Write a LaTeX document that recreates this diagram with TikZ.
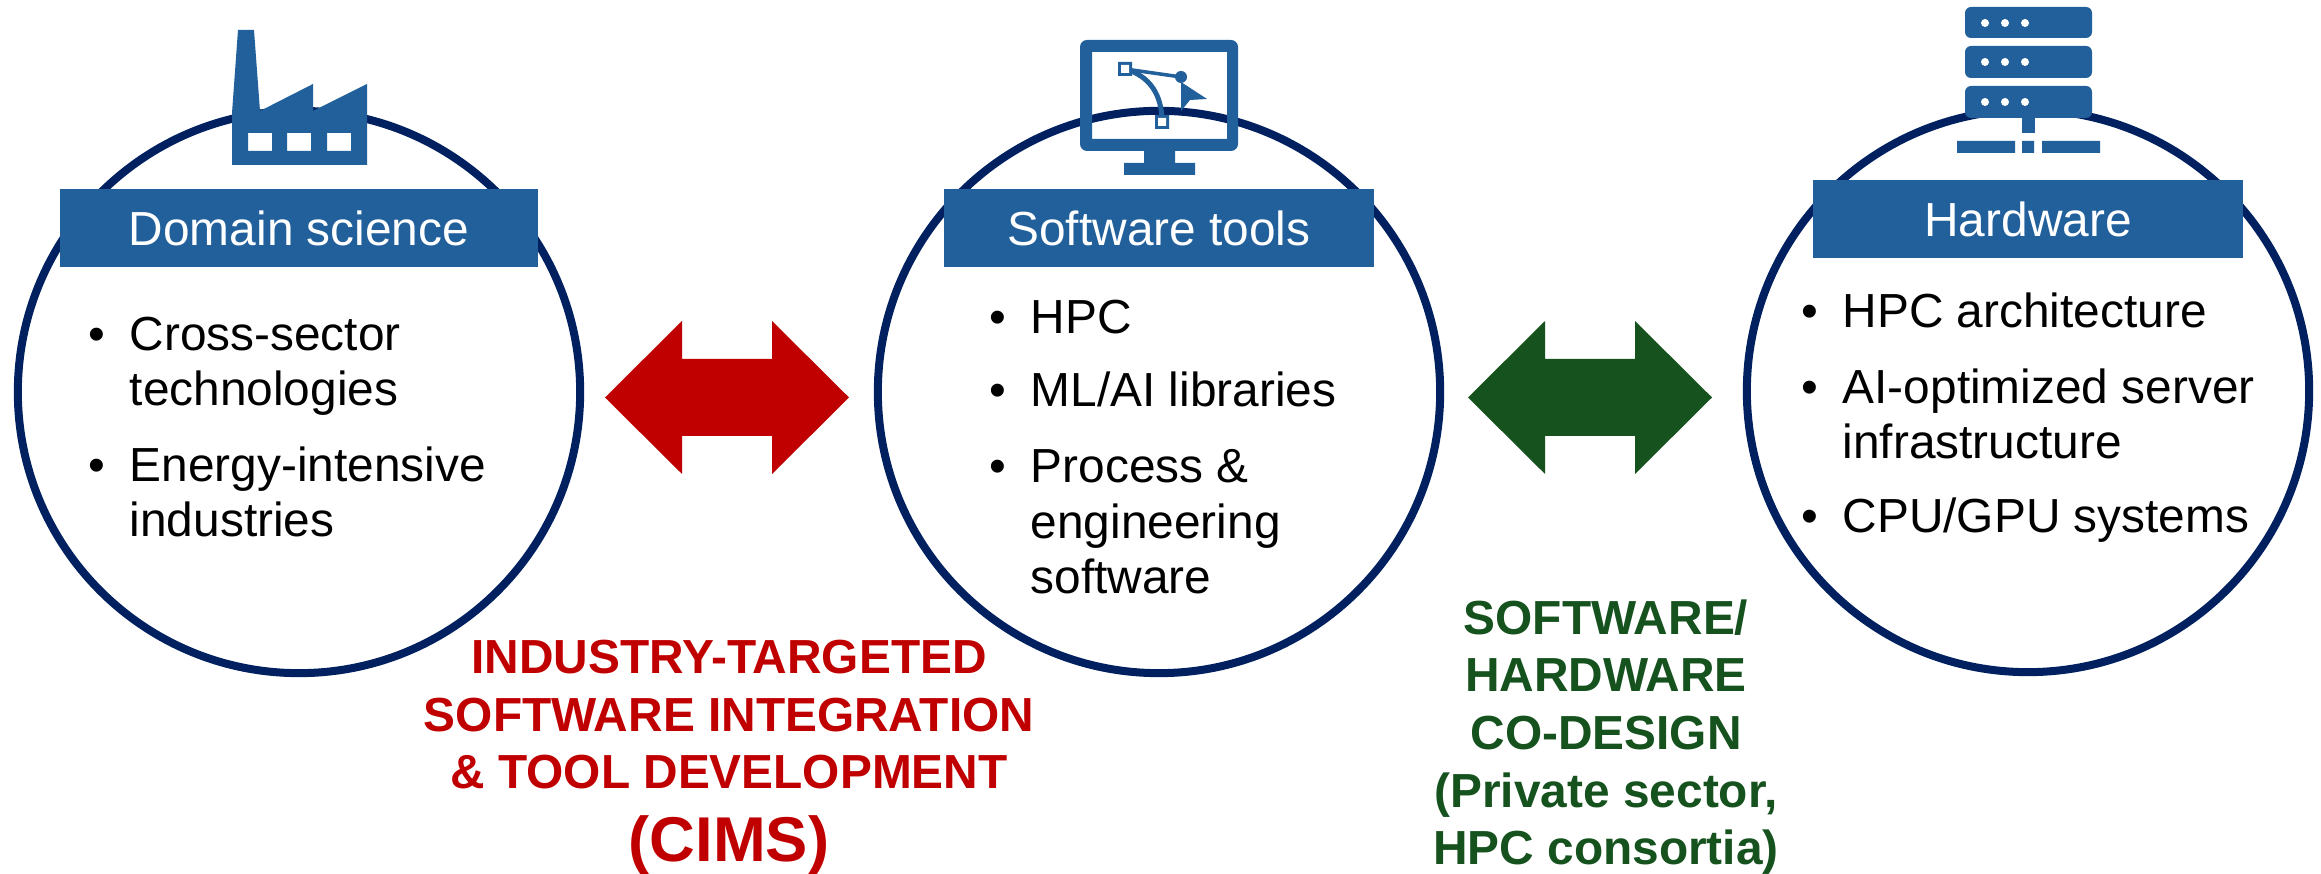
\documentclass[tikz,border=0pt]{standalone}
\usepackage{fontspec}
\setmainfont{Liberation Sans}
\usepackage{xcolor}
\usepackage{tikz}
\usetikzlibrary{positioning}

\definecolor{ringblue}{HTML}{002060}
\definecolor{headblue}{HTML}{21609B}
\definecolor{cimsred}{HTML}{C00000}
\definecolor{codegreen}{HTML}{15521E}

\newcommand{\bu}{\makebox[0.41cm][l]{\textbullet}}
\newcommand{\nb}{\hspace*{0.41cm}}

\begin{document}
\begin{tikzpicture}[
        x=0.01cm, y=-0.01cm,
        ring/.style={circle,draw=ringblue,line width=0.08cm,minimum size=5.62cm,inner sep=0pt},
        head/.style={fill=headblue,text=white,minimum width=#1,minimum height=0.78cm,inner sep=0pt,font=\fontsize{13.6}{16}\selectfont},
        itm/.style={anchor=base west,align=left,inner sep=0pt,font=\fontsize{13.6}{15.9}\selectfont},
        note/.style={anchor=base,align=center,inner sep=0pt,font=\fontsize{13.6}{16.4}\selectfont\bfseries},
        icon/.style={fill=headblue,draw=none}
      ]
      \useasboundingbox (0,0) rectangle (2321,874);
      % circles
      \node[ring] (sci) at (299,392) {};
      \node[ring] (sw) at (1159,392) {};
      \node[ring] (hw) at (2028,391) {};
      % headers
      \node[head=4.78cm] (scih) at (299,228) {Domain science};
      \node[head=4.29cm] (swh) at (1159,228) {Software tools};
      \node[head=4.29cm] (hwh) at (2028,219) {Hardware};
      % lists
      \node[itm] (sci1) at (88,406) {\bu Cross-sector\\\nb technologies};
      \node[itm] (sci2) at (88,537) {\bu Energy-intensive\\\nb industries};
      \node[itm] (sw1) at (989,334) {\bu HPC};
      \node[itm] (sw2) at (989,407) {\bu ML/AI libraries};
      \node[itm] (sw3) at (989,594) {\bu Process \&\\\nb engineering\\\nb software};
      \node[itm] (hw1) at (1801,328) {\bu HPC architecture};
      \node[itm] (hw2) at (1801,459) {\bu AI-optimized server\\\nb infrastructure};
      \node[itm] (hw3) at (1801,533) {\bu CPU/GPU systems};
      % arrows
      \fill[cimsred] (605,397.5) -- (682,321) -- (682,359) -- (772,359) -- (772,321) -- (849,397.5)
        -- (772,474) -- (772,436) -- (682,436) -- (682,474) -- cycle;
      \fill[codegreen] (1468,397.5) -- (1545,321) -- (1545,359) -- (1635,359) -- (1635,321) -- (1712,397.5)
        -- (1635,474) -- (1635,436) -- (1545,436) -- (1545,474) -- cycle;
      % bottom notes
      \node[note,text=cimsred] (cims) at (729,789) {INDUSTRY-TARGETED\\SOFTWARE INTEGRATION\\\& TOOL DEVELOPMENT};
      \node[note,text=cimsred,font=\fontsize{18}{20}\selectfont\bfseries] (cimsb) at (729,862) {(CIMS)};
      \node[note,text=codegreen] (code) at (1606,865) {SOFTWARE/\\HARDWARE\\CO-DESIGN\\(Private sector,\\HPC consortia)};
      % factory
      \fill[icon,even odd rule] (238,30) -- (254,30) -- (260,111) -- (313,84) -- (313,111) -- (367,84)
        -- (367,165) -- (232,165) -- (232,113) -- cycle
        (248,133) rectangle (272,151) (287,133) rectangle (311,151) (327,133) rectangle (351,151);
      % monitor
      \fill[icon,even odd rule,rounded corners=0.07cm] (1080,40) rectangle (1238,151)
        [sharp corners] (1092,52) rectangle (1227,139);
      \fill[icon] (1144,151) rectangle (1175,163) (1124,163) rectangle (1195,175);
      \draw[headblue,line width=0.05cm] (1125,69) .. controls (1150,76) and (1162,95) .. (1162,122);
      \draw[headblue,line width=0.035cm] (1125,69) -- (1181,77);
      \fill[icon] (1181,77) circle (6);
      \fill[icon] (1181,82) -- (1207,99) -- (1190,100) -- (1181,111) -- cycle;
      \fill[icon] (1118,62) rectangle (1132,76) (1155,115) rectangle (1169,129);
      \fill[white] (1121,65) rectangle (1129,73) (1158,118) rectangle (1166,126);
      % server
      \fill[icon,rounded corners=0.06cm] (1965,7) rectangle (2092,38);
      \fill[icon,rounded corners=0.06cm] (1965,46) rectangle (2092,78);
      \fill[icon,rounded corners=0.06cm] (1965,86) rectangle (2092,118);
      \foreach \yy in {23,62,102}
        \foreach \xx in {1985,2005,2025}
          \fill[white] (\xx,\yy) circle (4);
      \fill[icon] (2022,118) rectangle (2035,133);
      \fill[icon] (1957,141) rectangle (2015,153) (2022,141) rectangle (2034,153) (2042,141) rectangle (2100,153);
    \end{tikzpicture}
\end{document}
